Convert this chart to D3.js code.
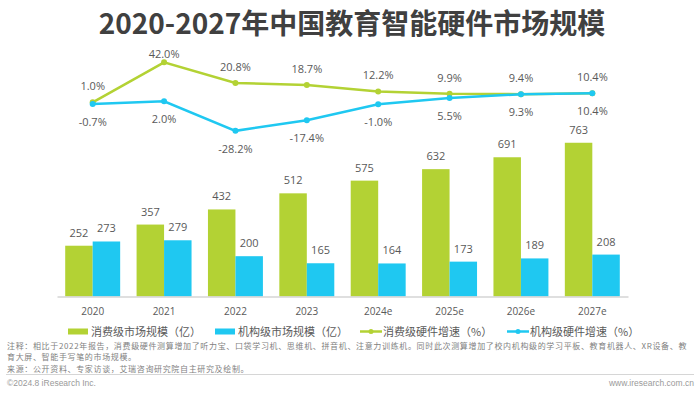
<!DOCTYPE html>
<html>
<head>
<meta charset="utf-8">
<script src="https://cdn.jsdelivr.net/npm/d3@7/dist/d3.min.js"></script>
<style>
	html, body { margin: 0; padding: 0; background: #fff; }
	svg { display: block; font-family: "Open Sans", "Noto Sans CJK SC", sans-serif; }
	.cn { font-family: "Noto Sans CJK SC", sans-serif; }
</style>
</head>
<body>
<svg id="chart" width="700" height="393"></svg>
<script>
var years = ['2020', '2021', '2022', '2023', '2024e', '2025e', '2026e', '2027e'];
var consumerSize = [252, 357, 432, 512, 575, 632, 691, 763];
var institutionSize = [273, 279, 200, 165, 164, 173, 189, 208];
var consumerGrowth = [1.0, 42.0, 20.8, 18.7, 12.2, 9.9, 9.4, 10.4];
var institutionGrowth = [-0.7, 2.0, -28.2, -17.4, -1.0, 5.5, 9.3, 10.4];
var seriesNames = ['消费级市场规模（亿）', '机构级市场规模（亿）', '消费级硬件增速（%）', '机构级硬件增速（%）'];

(function(d3) {
	'use strict';

	var green = '#b3d234', blue = '#1fc8f1', textColor = '#595959';
	var svg = d3.select('#chart');

	/** title */
	svg.append('text').attr('class', 'cn')
		.attr('x', 352).attr('y', 34)
		.attr('text-anchor', 'middle')
		.attr('font-size', 28).attr('font-weight', 'bold')
		.attr('fill', '#404040')
		.text('2020-2027年中国教育智能硬件市场规模');

	/** scales */
	var baseY = 296.5;
	var x = d3.scaleBand().domain(years).range([57, 628]).paddingInner(0.23).paddingOuter(0.115);
	var xSub = d3.scaleBand().domain([0, 1]).range([0, x.bandwidth()]);
	var yBar = d3.scaleLinear().domain([0, 800]).range([baseY, baseY - 161.2]);
	var yLine = d3.scaleLinear().domain([-30, 45]).range([132.6, 59.4]);
	var cx = function(d, i) { return x(years[i]) + x.bandwidth() / 2; };

	/** bars */
	var barSeries = [consumerSize, institutionSize];
	var barColors = [green, blue];
	barSeries.forEach(function(values, s) {
		var g = svg.append('g');
		g.selectAll('rect').data(values).enter().append('rect')
			.attr('x', function(d, i) { return x(years[i]) + xSub(s); })
			.attr('width', xSub.bandwidth())
			.attr('y', function(d) { return yBar(d); })
			.attr('height', function(d) { return baseY - yBar(d); })
			.attr('fill', barColors[s]);
		g.selectAll('text').data(values).enter().append('text')
			.attr('x', function(d, i) { return x(years[i]) + xSub(s) + xSub.bandwidth() / 2; })
			.attr('y', function(d) { return yBar(d) - 9; })
			.attr('text-anchor', 'middle')
			.attr('font-size', 11).attr('fill', textColor)
			.text(function(d) { return d; });
	});

	/** x axis */
	var axis = svg.append('g')
		.attr('transform', 'translate(0,' + baseY + ')')
		.call(d3.axisBottom(x).tickSize(0).tickSizeOuter(0).tickPadding(11));
	axis.select('.domain').attr('stroke', '#d4d4d4').attr('stroke-width', 1.5);
	axis.selectAll('text').attr('font-size', 10).attr('fill', textColor)
		.attr('font-family', '"Open Sans", sans-serif');

	/** growth lines */
	var lineSeries = [consumerGrowth, institutionGrowth];
	var lineColors = [green, blue];
	var line = d3.line().x(cx).y(function(d) { return yLine(d); });
	lineSeries.forEach(function(values, s) {
		var g = svg.append('g');
		g.append('path').datum(values)
			.attr('d', line)
			.attr('fill', 'none')
			.attr('stroke', lineColors[s]).attr('stroke-width', 2.5);
		g.selectAll('circle').data(values).enter().append('circle')
			.attr('cx', cx)
			.attr('cy', function(d) { return yLine(d); })
			.attr('r', 3)
			.attr('fill', lineColors[s]);
	});
	// labels after both lines so they sit on top
	lineSeries.forEach(function(values, s) {
		svg.append('g').selectAll('text').data(values).enter().append('text')
			.attr('x', cx)
			.attr('y', function(d) {
				var c = s === 0 ? Math.max(yLine(d) - 16, 54) : yLine(d) + 18;
				return c + 4;
			})
			.attr('text-anchor', 'middle')
			.attr('font-size', 11).attr('fill', textColor)
			.text(function(d) { return d.toFixed(1) + '%'; });
	});

	/** legend */
	var legendX = [68, 215, 360, 507];
	var legendY = 331.5;
	var legend = svg.append('g').selectAll('g').data(seriesNames).enter().append('g')
		.attr('transform', function(d, i) { return 'translate(' + legendX[i] + ',' + legendY + ')'; });
	legend.each(function(d, i) {
		var item = d3.select(this);
		var color = i % 2 === 0 ? green : blue;
		if (i < 2) {
			item.append('rect').attr('x', 0).attr('y', -3).attr('width', 20).attr('height', 6).attr('fill', color);
		} else {
			item.append('line').attr('x1', 0).attr('x2', 22).attr('y1', 0).attr('y2', 0)
				.attr('stroke', color).attr('stroke-width', 2.5);
			item.append('circle').attr('cx', 11).attr('cy', 0).attr('r', 2.5).attr('fill', color);
		}
		item.append('text').attr('class', 'cn')
			.attr('x', 23).attr('y', 4)
			.attr('font-size', 11).attr('fill', textColor)
			.text(d);
	});

	/** notes: one text block, one tspan per line */
	var notes = [
		'注释：相比于2022年报告，消费级硬件测算增加了听力宝、口袋学习机、思维机、拼音机、注意力训练机。同时此次测算增加了校内机构级的学习平板、教育机器人、XR设备、教',
		'育大屏、智能手写笔的市场规模。',
		'来源：公开资料、专家访谈，艾瑞咨询研究院自主研究及绘制。'
	];
	svg.append('text').attr('class', 'cn')
		.attr('y', 348.5)
		.attr('font-size', 8).attr('letter-spacing', 0.65).attr('fill', '#7f7f7f')
		.selectAll('tspan').data(notes).enter().append('tspan')
		.attr('x', 7)
		.attr('dy', function(d, i) { return i === 0 ? 0 : 11.6; })
		.text(function(d) { return d; });

	/** footer */
	svg.append('line').attr('x1', 6).attr('x2', 694).attr('y1', 374.5).attr('y2', 374.5)
		.attr('stroke', '#d6d6d6').attr('stroke-width', 1);
	svg.append('text').attr('x', 7).attr('y', 385.5)
		.attr('font-family', '"Liberation Sans", Arial, sans-serif')
		.attr('font-size', 8.5).attr('fill', '#9a9a9a')
		.text('©2024.8 iResearch Inc.');
	svg.append('text').attr('x', 694).attr('y', 385.5)
		.attr('text-anchor', 'end')
		.attr('font-family', '"Liberation Sans", Arial, sans-serif')
		.attr('font-size', 8.5).attr('fill', '#9a9a9a')
		.text('www.iresearch.com.cn');
})(d3);
</script>
</body>
</html>
